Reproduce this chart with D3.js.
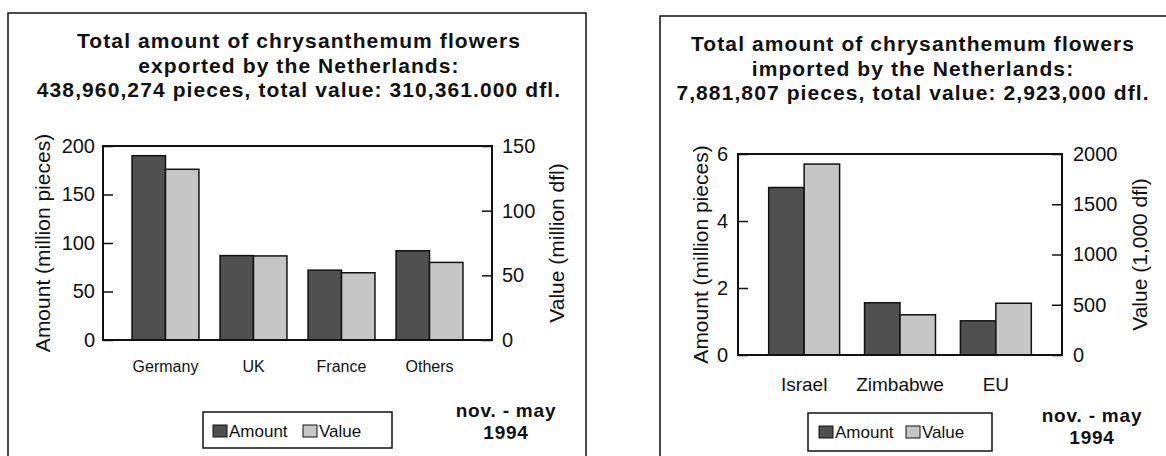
<html>
<head>
<meta charset="UTF-8">
<title>chrysanthemum</title>
<script src="https://d3js.org/d3.v7.min.js"></script>
<style>
 body { margin:0; background:#fff; }
 text { font-family: "Liberation Sans", Arial, sans-serif; fill:#111; }
</style>
</head>
<body>
<svg width="1166" height="456"></svg>
<script>
// export chart (left)
var exportCountries = ["Germany", "UK", "France", "Others"];
var exportAmount = [190, 87, 72, 92];      // million pieces
var exportValue = [132, 65, 52, 60];       // million dfl
var exportAmountTicks = [0, 50, 100, 150, 200];
var exportValueTicks = [0, 50, 100, 150];
var exportTitle = ["Total amount of chrysanthemum flowers",
                   "exported by the Netherlands:",
                   "438,960,274 pieces, total value: 310,361.000 dfl."];

// import chart (right)
var importCountries = ["Israel", "Zimbabwe", "EU"];
var importAmount = [5.0, 1.56, 1.02];      // million pieces
var importValue = [1900, 400, 515];        // 1,000 dfl
var importAmountTicks = [0, 2, 4, 6];
var importValueTicks = [0, 500, 1000, 1500, 2000];
var importTitle = ["Total amount of chrysanthemum flowers",
                   "imported by the Netherlands:",
                   "7,881,807 pieces, total value: 2,923,000 dfl."];

var seriesNames = ["Amount", "Value"];
var seriesColors = ["#505050", "#c6c6c6"];
var periodText = ["nov. - may", "1994"];

var svg = d3.select("svg");

function drawChart(o) {
  // outer frame of the panel
  svg.append("rect")
    .attr("x", o.box[0]).attr("y", o.box[1])
    .attr("width", o.box[2]).attr("height", o.box[3])
    .attr("fill", "none").attr("stroke", "#111").attr("stroke-width", 1.5);

  // title, three lines
  o.title.forEach(function(t, i) {
    svg.append("text")
      .attr("x", o.titleX).attr("y", o.titleY + i * 24.5)
      .attr("text-anchor", "middle")
      .style("font-size", "21px").style("font-weight", "bold")
      .style("letter-spacing", "1.1px")
      .text(t);
  });

  var x0 = d3.scaleBand().domain(o.cats).range([o.left, o.right])
    .paddingInner(o.padIn).paddingOuter(o.padOut);
  var x1 = d3.scaleBand().domain(seriesNames).range([0, x0.bandwidth()]);
  var yA = d3.scaleLinear().domain([0, d3.max(o.aTicks)]).range([o.bottom, o.top]);
  var yV = d3.scaleLinear().domain([0, d3.max(o.vTicks)]).range([o.bottom, o.top]);

  var rows = o.cats.map(function(c, i) { return {cat: c, Amount: o.amount[i], Value: o.value[i]}; });

  var g = svg.append("g");
  g.selectAll("g.cat").data(rows).enter().append("g")
    .attr("transform", function(d) { return "translate(" + x0(d.cat) + ",0)"; })
    .selectAll("rect")
    .data(function(d) { return seriesNames.map(function(s) { return {s: s, v: d[s]}; }); })
    .enter().append("rect")
    .attr("x", function(d) { return x1(d.s); })
    .attr("width", x1.bandwidth())
    .attr("y", function(d) { return d.s == "Amount" ? yA(d.v) : yV(d.v); })
    .attr("height", function(d) { return o.bottom - (d.s == "Amount" ? yA(d.v) : yV(d.v)); })
    .attr("fill", function(d, i) { return seriesColors[i]; })
    .attr("stroke", "#111").attr("stroke-width", 1.5);

  // plot frame
  svg.append("rect")
    .attr("x", o.left).attr("y", o.top)
    .attr("width", o.right - o.left).attr("height", o.bottom - o.top)
    .attr("fill", "none").attr("stroke", "#111").attr("stroke-width", 2);

  var fmt = d3.format("d");
  var ax = d3.axisLeft(yA).tickValues(o.aTicks).tickFormat(fmt).tickSize(-10).tickPadding(o.padL);
  var gl = svg.append("g").attr("transform", "translate(" + o.left + ",0)").call(ax);
  var axr = d3.axisRight(yV).tickValues(o.vTicks).tickFormat(fmt).tickSize(-10).tickPadding(o.padR);
  var gr = svg.append("g").attr("transform", "translate(" + o.right + ",0)").call(axr);
  [gl, gr].forEach(function(a) {
    a.select(".domain").remove();
    a.selectAll("line").attr("stroke", "#111").attr("stroke-width", 1.5);
    a.selectAll("text").style("font-size", o.tickFont).style("font-family", '"Liberation Sans", Arial, sans-serif').attr("fill", "#111");
  });

  // category names under the bars
  svg.selectAll(null).data(o.cats).enter().append("text")
    .attr("x", function(d) { return x0(d) + x0.bandwidth() / 2; })
    .attr("y", o.catY)
    .attr("text-anchor", "middle")
    .style("font-size", o.catFont)
    .text(function(d) { return d; });

  // axis titles
  svg.append("text")
    .attr("transform", "translate(" + o.yTitleL + "," + (o.top + o.bottom) / 2 + ") rotate(-90)")
    .attr("text-anchor", "middle").style("font-size", o.titleFont)
    .text(o.aLabel);
  svg.append("text")
    .attr("transform", "translate(" + o.yTitleR + "," + (o.top + o.bottom) / 2 + ") rotate(-90)")
    .attr("text-anchor", "middle").style("font-size", o.titleFont)
    .text(o.vLabel);

  // legend
  var lg = svg.append("g").attr("transform", "translate(" + o.legend[0] + "," + o.legend[1] + ")");
  lg.append("rect").attr("width", o.legend[2]).attr("height", o.legend[3])
    .attr("fill", "#fff").attr("stroke", "#111").attr("stroke-width", 1.5);
  seriesNames.forEach(function(s, i) {
    lg.append("rect").attr("x", o.legendX[i]).attr("y", o.legendY - 12)
      .attr("width", 14).attr("height", 12)
      .attr("fill", seriesColors[i]).attr("stroke", "#111").attr("stroke-width", 1);
    lg.append("text").attr("x", o.legendX[i] + 16).attr("y", o.legendY)
      .style("font-size", "17px").text(s);
  });

  // period note
  periodText.forEach(function(t, i) {
    svg.append("text")
      .attr("x", o.period[0]).attr("y", o.period[1] + i * 22)
      .attr("text-anchor", "middle")
      .style("font-size", "19px").style("font-weight", "bold")
      .style("letter-spacing", "0.8px")
      .text(t);
  });
}

drawChart({
  box: [8, 13, 578, 470], title: exportTitle, titleX: 299, titleY: 48,
  cats: exportCountries, amount: exportAmount, value: exportValue,
  aTicks: exportAmountTicks, vTicks: exportValueTicks,
  left: 103, right: 492, top: 146, bottom: 340, padIn: 0.24, padOut: 0.33,
  padL: 8, padR: 10, tickFont: "20px",
  catY: 372, catFont: "16px",
  yTitleL: 50, yTitleR: 564, titleFont: "21px",
  aLabel: "Amount (million pieces)", vLabel: "Value (million dfl)",
  legend: [203, 412, 189, 36], legendX: [10, 100], legendY: 25,
  period: [506, 417]
});

drawChart({
  box: [660, 16, 520, 470], title: importTitle, titleX: 913, titleY: 51,
  cats: importCountries, amount: importAmount, value: importValue,
  aTicks: importAmountTicks, vTicks: importValueTicks,
  left: 738, right: 1062, top: 154, bottom: 355, padIn: 0.26, padOut: 0.32,
  padL: 10, padR: 11, tickFont: "20px",
  catY: 391, catFont: "19px",
  yTitleL: 708, yTitleR: 1147, titleFont: "21px",
  aLabel: "Amount (million pieces)", vLabel: "Value (1,000 dfl)",
  legend: [808, 413, 184, 38], legendX: [11, 98], legendY: 25,
  period: [1092, 422]
});
</script>
</body>
</html>
